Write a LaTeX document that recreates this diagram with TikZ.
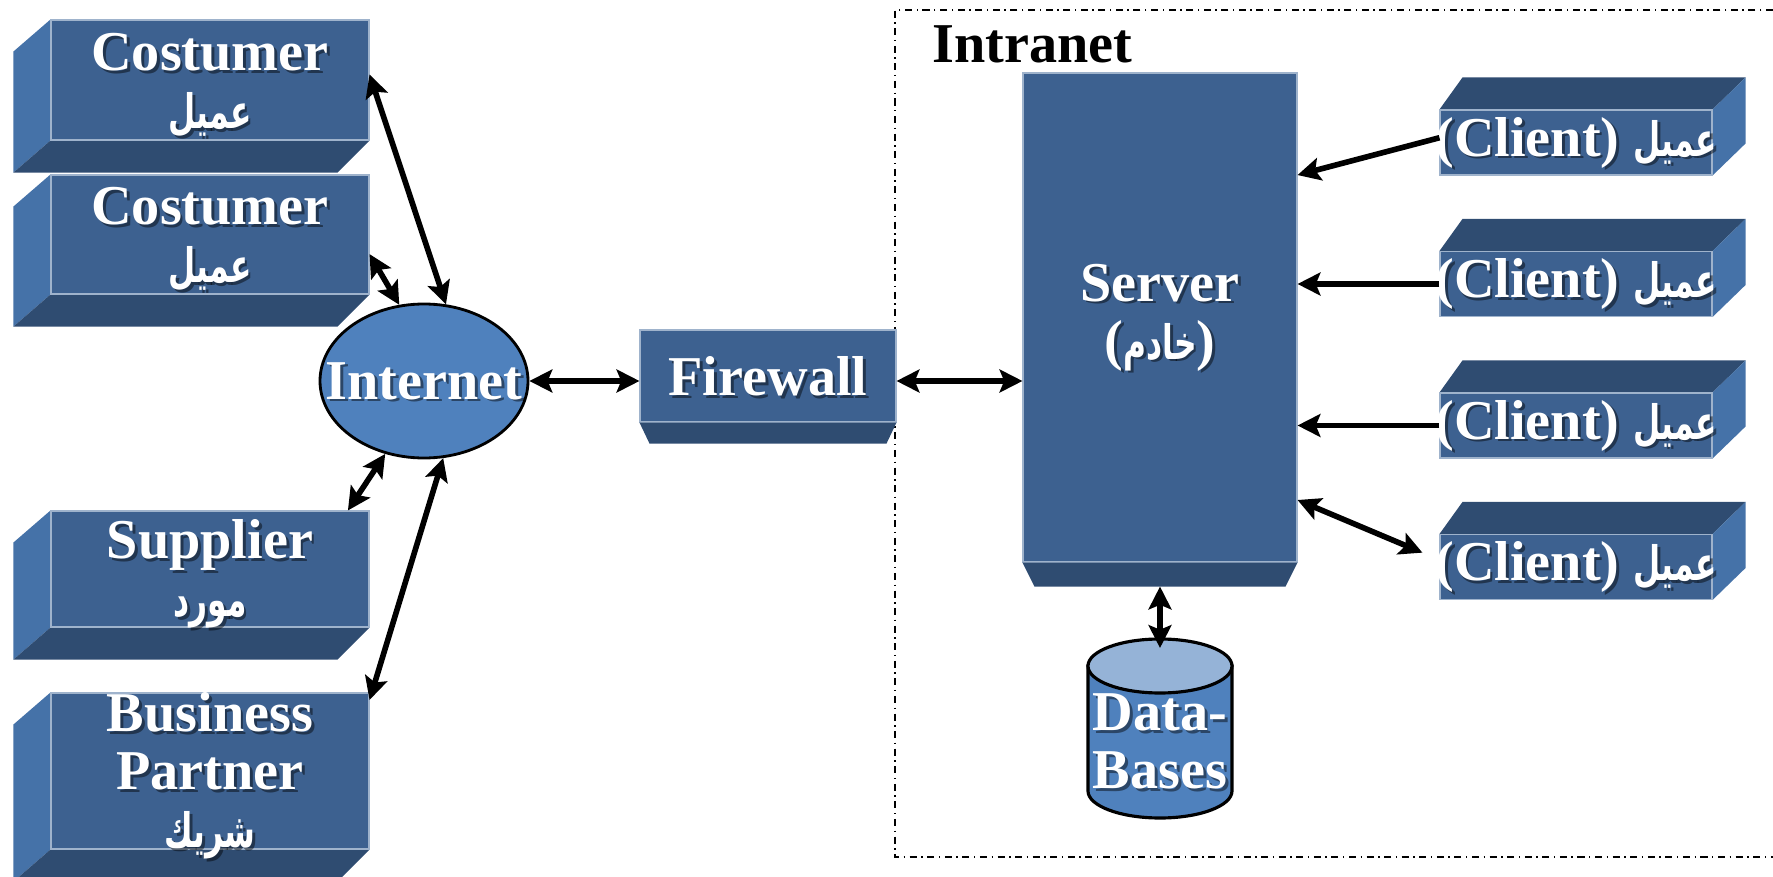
\documentclass[tikz,border=0pt]{standalone}
\usepackage{fontspec}
\setmainfont{Liberation Serif}
\newfontfamily\arabicfont[Script=Arabic,FakeStretch=0.66]{DejaVu Sans}
\TeXXeTstate=1
\usetikzlibrary{arrows.meta,calc,shapes.geometric,backgrounds}

\definecolor{boxfront}{HTML}{3D6190}
\definecolor{boxdark}{HTML}{2F4C71}
\definecolor{boxlight}{HTML}{4572A8}
\definecolor{boxedge}{HTML}{9FB3CC}
\definecolor{netblue}{HTML}{4F81BD}
\definecolor{dbtop}{HTML}{95B3D7}

\newcommand{\artxt}[1]{{\arabicfont\fontsize{13.5}{17}\selectfont\beginR#1\endR}}

\begin{document}
\begin{tikzpicture}[x=0.1mm,y=0.1mm,
  >={Stealth[length=6.5pt,width=6.5pt,inset=1.3pt]},
  front/.style={rectangle,fill=boxfront,draw=boxedge,line width=0.3pt,inner sep=0},
  dark/.style={fill=boxdark},
  light/.style={fill=boxlight},
  lbl/.style={text=white,font=\fontsize{16}{16.5}\selectfont\bfseries,align=center,inner sep=0},
  shade/.style={lbl,text=black,text opacity=0.45,xshift=0.8pt,yshift=-0.8pt},
  link/.style={line width=1.6pt},
  framed/.style={line width=0.5pt,dash pattern=on 2pt off 1.3pt on 0.4pt off 1.3pt}]
\useasboundingbox (0,0) rectangle (1773,876);

% intranet frame
\draw[framed] (1773,866) -- (895,866) -- (895,19) -- (1773,19);
\node[anchor=base west,font=\fontsize{16}{17}\selectfont\bfseries,inner sep=0] (intra) at (932,813) {Intranet};

% outside partners
\foreach \name/\cy/\h/\txt in {cus1/796/12mm/{Costumer\\\artxt{عميل}},
    cus2/641.5/11.9mm/{Costumer\\\artxt{عميل}},
    sup/307/11.6mm/{Supplier\\\artxt{مورد}},
    bp/105/15.6mm/{Business\\Partner\\\artxt{شريك}}}{
  \node[front,minimum width=31.8mm,minimum height=\h,
    label={[shade,yshift=-0.5mm]center:\txt},label={[lbl,yshift=-0.5mm]center:\txt}] (\name) at (210,\cy) {};
  \begin{scope}[on background layer]
  \fill[light] (\name.north west) -- ++(-37,-32) -- ($(\name.south west)+(-37,-32)$) -- (\name.south west) -- cycle;
  \fill[dark] (\name.south west) -- ++(-37,-32) -- ($(\name.south east)+(-32,-32)$) -- (\name.south east) -- cycle;
  \end{scope}
}

% internet and firewall
\node[ellipse,draw=black,line width=0.8pt,fill=netblue,minimum width=20.8mm,minimum height=15.4mm,inner sep=0,
  label={[shade]center:Internet},label={[lbl]center:Internet}] (inet) at (424,495) {};
\node[front,minimum width=25.6mm,minimum height=9.2mm,
  label={[shade]center:Firewall},label={[lbl]center:Firewall}] (fw) at (768,500) {};
\fill[dark] (fw.south west) -- ++(10,-21) -- ($(fw.south east)+(-10,-21)$) -- (fw.south east) -- cycle;

% server
\node[front,minimum width=27.4mm,minimum height=48.9mm,
  label={[shade]center:{Server\\(\artxt{خادم})}},label={[lbl]center:{Server\\(\artxt{خادم})}}] (srv) at (1160,558.5) {};
\fill[dark] (srv.south west) -- ++(12,-24) -- ($(srv.south east)+(-12,-24)$) -- (srv.south east) -- cycle;
\coordinate (srvfoot) at ($(srv.south)+(0,-24)$);

% clients
\foreach \i/\cy in {1/733.5,2/592,3/450.5,4/309}{
  \node[front,minimum width=27.2mm,minimum height=6.5mm,
    label={[shade]center:{(Client) \artxt{عميل}}},label={[lbl]center:{(Client) \artxt{عميل}}}] (cl\i) at (1576,\cy) {};
  \begin{scope}[on background layer]
  \fill[dark] (cl\i.north west) -- ++(23,32) -- ($(cl\i.north east)+(33,32)$) -- (cl\i.north east) -- cycle;
  \fill[light] (cl\i.north east) -- ++(33,32) -- ($(cl\i.south east)+(33,32)$) -- (cl\i.south east) -- cycle;
  \end{scope}
}

% database
\filldraw[fill=netblue,draw=black,line width=0.9pt] (1088,210) -- (1088,85)
  arc[start angle=180,end angle=360,x radius=7.2mm,y radius=2.7mm] -- (1232,210) -- cycle;
\filldraw[fill=dbtop,draw=black,line width=0.9pt] (1160,210) ellipse[x radius=7.2mm,y radius=2.7mm];
\node[shade] at (1160,134.5) {Data-\\Bases};
\node[lbl] (db) at (1160,134.5) {Data-\\Bases};
\coordinate (dbtop) at (1160,228);

% links
\draw[link,<->] (cus1.2) -- (inet.74);
\draw[link,<->] (cus2.-7) -- (inet.108);
\draw[link,<->] (sup.23) -- (inet.242);
\draw[link,<->] (bp.24.5) -- (inet.284);
\draw[link,<->] (inet.east) -- (inet.east -| fw.west);
\draw[link,<->] (inet.east -| fw.east) -- (inet.east -| srv.west);
\draw[link,->] (cl1.178) -- (srv.46);
\draw[link,->] (cl2.west) -- (cl2.west -| srv.east);
\draw[link,->] (cl3.west) -- (cl3.west -| srv.east);
\draw[link,<->] (srv.-53.4) -- ([xshift=-1.7mm]cl4.174.5);
\draw[link,<->] (srvfoot) -- (dbtop);
\end{tikzpicture}
\end{document}
